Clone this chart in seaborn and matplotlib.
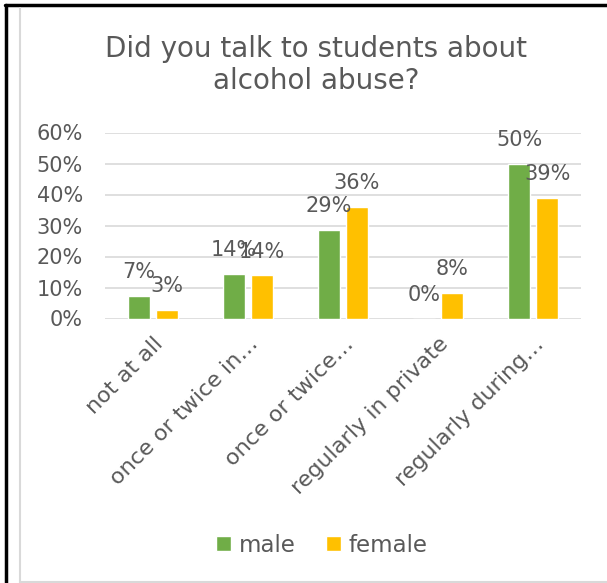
import numpy as np
import pandas as pd
import matplotlib.pyplot as plt
import seaborn as sns
from matplotlib.lines import Line2D
from matplotlib.patches import Patch

categories = ["not at all", "once or twice in\u2026", "once or twice\u2026",
              "regularly in private", "regularly during\u2026"]
male = [1 / 14, 2 / 14, 4 / 14, 0.0, 7 / 14]
female = [1 / 36, 5 / 36, 13 / 36, 3 / 36, 14 / 36]
series = ["male", "female"]
yticks = [0, 0.1, 0.2, 0.3, 0.4, 0.5, 0.6]

df = pd.DataFrame({
    "answer": categories * 2,
    "share": male + female,
    "gender": ["male"] * len(categories) + ["female"] * len(categories),
})

sns.set_style("white")
plt.rcParams["font.family"] = ["DejaVu Sans"]
text_col = "#595959"
colors = {"male": "#70AD47", "female": "#FFC000"}

fig = plt.figure(figsize=(6.07, 5.83), dpi=100)
W, H = 607, 583
ax = fig.add_axes([105 / W, 1 - 318.5 / H, (581 - 105) / W, (318.5 - 132.5) / H])

sns.barplot(data=df, x="answer", y="share", hue="gender", hue_order=series,
            palette=colors, width=0.588, gap=0.21, ax=ax, legend=False,
            saturation=1)

for cont in ax.containers:
    labels = [f"{round(b.get_height() * 100):d}%" for b in cont]
    ax.bar_label(cont, labels=labels, padding=10, fontsize=15, color=text_col)

ax.set_ylim(0, 0.6)
ax.set_xlim(-0.5, 4.5)
ax.set_yticks(yticks)
ax.set_yticklabels([f"{int(round(t * 100))}%" for t in yticks])
ax.yaxis.grid(True, color="#d9d9d9", linewidth=1.2)
ax.set_axisbelow(True)
for s in ["top", "right", "left", "bottom"]:
    ax.spines[s].set_visible(False)
ax.tick_params(axis="both", length=0, labelcolor=text_col)
ax.tick_params(axis="y", pad=16, labelsize=15)
ax.tick_params(axis="x", pad=11, labelsize=16)
ax.set_xlabel("")
ax.set_ylabel("")
plt.setp(ax.get_xticklabels(), rotation=45, ha="right", va="top",
         rotation_mode="anchor")

fig.text(316 / W, 1 - 65 / H, "Did you talk to students about\nalcohol abuse?",
         ha="center", va="center", multialignment="center", fontsize=20,
         color=text_col, linespacing=1.15)

handles = [Patch(facecolor=colors[s], label=s) for s in series]
fig.legend(handles=handles, loc="center", bbox_to_anchor=(322 / W, 1 - 545 / H),
           ncol=2, frameon=False, fontsize=16.5, labelcolor=text_col,
           handlelength=0.65, handleheight=0.65, handletextpad=0.35,
           columnspacing=1.3)

# outer frame lines
fig.add_artist(Line2D([5 / W, 1], [1 - 5 / H, 1 - 5 / H], color="black", lw=2.5,
                      transform=fig.transFigure))
fig.add_artist(Line2D([6 / W, 6 / W], [0, 1 - 5 / H], color="black", lw=2.5,
                      transform=fig.transFigure))
fig.add_artist(Line2D([20 / W, 20 / W], [0, 1 - 8 / H], color="#d9d9d9", lw=1.5,
                      transform=fig.transFigure))
fig.add_artist(Line2D([20 / W, 1], [1.5 / H, 1.5 / H], color="#d9d9d9", lw=1.5,
                      transform=fig.transFigure))

fig.savefig("out.png", dpi=100)
